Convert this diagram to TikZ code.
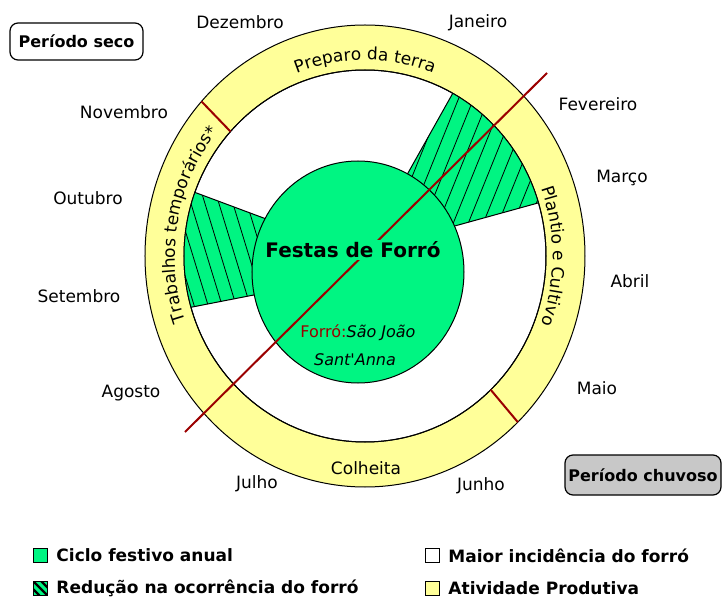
\documentclass[tikz,border=0pt]{standalone}
\usepackage{fontspec}
\setmainfont{DejaVu Sans}
\usetikzlibrary{positioning,decorations.text}
\definecolor{festgreen}{RGB}{0,245,130}
\definecolor{prodyellow}{RGB}{255,255,153}
\definecolor{forrored}{RGB}{155,0,0}
\definecolor{rainygray}{RGB}{200,200,200}
\newcommand{\ringfont}{\fontsize{17}{20}\selectfont}
\tikzset{
	month/.style={font=\fontsize{17}{20}\selectfont, inner sep=1pt},
	periodbox/.style={draw, rounded corners=8pt, line width=1.2pt, minimum width=133pt, minimum height=37pt, font=\bfseries\fontsize{16}{19}\selectfont},
	legbox/.style={draw, line width=1.6pt, minimum size=14pt, inner sep=0pt},
	legtext/.style={font=\bfseries\fontsize{17}{20}\selectfont, inner sep=1pt},
	hatchline/.style={line width=0.8pt},
	ringline/.style={line width=1pt},
	redline/.style={forrored, line width=2pt},
}
\begin{document}
\begin{tikzpicture}[x=1pt, y=1pt]
		\useasboundingbox (-365,-346) rectangle (358,256);
		% anel das atividades
		\draw[ringline, fill=prodyellow] (0,0) ellipse [x radius=220, y radius=231];
		\draw[ringline, fill=white] (0,0) ellipse [x radius=181, y radius=186];
		\coordinate (gc) at (-7,-16);
		\coordinate (wa) at (61:181 and 186);
		\coordinate (wb) at (16.6:181 and 186);
		\coordinate (wai) at (34,67);
		\coordinate (wbi) at (68,24);
		\coordinate (wc) at (160:181 and 186);
		\coordinate (wd) at (196:181 and 186);
		\coordinate (wci) at (-88,33);
		\coordinate (wdi) at (-101,-37);
		% reducao (fevereiro - marco)
		\fill[festgreen] (wai) -- (wa) arc[start angle=61, end angle=16.6, x radius=181, y radius=186] -- (wbi) -- (gc) -- cycle;
		\begin{scope}
			\clip (wai) -- (wa) arc[start angle=61, end angle=16.6, x radius=181, y radius=186] -- (wbi) -- (gc) -- cycle;
			\foreach \k in {0,...,15} \draw[hatchline] (\k*15-45,0) ++(68:-120) -- ++(68:320);
		\end{scope}
		\draw[ringline] (wai) -- (wa) (wb) -- (wbi);
		% reducao (setembro - outubro)
		\fill[festgreen] (wci) -- (wc) arc[start angle=160, end angle=196, x radius=181, y radius=186] -- (wdi) -- (gc) -- cycle;
		\begin{scope}
			\clip (wci) -- (wc) arc[start angle=160, end angle=196, x radius=181, y radius=186] -- (wdi) -- (gc) -- cycle;
			\foreach \k in {0,...,10} \draw[hatchline] (\k*14-200,0) ++(-73:-120) -- ++(-73:240);
		\end{scope}
		\draw[ringline] (wci) -- (wc) (wd) -- (wdi);
		\draw[ringline] (0,0) ellipse [x radius=181, y radius=186];
		% festas
		\draw[ringline, fill=festgreen] (gc) ellipse [x radius=106, y radius=111];
		\draw[redline] (138:181 and 186) -- (138:220 and 231);
		\draw[redline] (-46:181 and 186) -- (-46:220 and 231);
		\coordinate (ra) at (-180,-176);
		\coordinate (rb) at (182,183);
		\draw[redline] (ra) -- (rb);
		\node[fill=festgreen, inner sep=2pt, font=\bfseries\fontsize{20}{24}\selectfont] (festas) at (-12,6) {Festas de Forró};
		\node[font=\fontsize{16}{19}\selectfont] (saojoao) at (-7,-77) {\textcolor{forrored}{Forró:}\textit{São João}};
		\node[font=\fontsize{16}{19}\selectfont] (santanna) at (-10,-104) {\textit{Sant\textquotesingle Anna}};
		% textos do anel
		\path[decorate, decoration={text along path, text={|\ringfont|Preparo da terra}, text align=center}] (125:190 and 196) arc[start angle=125, end angle=55, x radius=190, y radius=196];
		\path[decorate, decoration={text along path, text={|\ringfont|Trabalhos temporários*}, text align=center}] (210:190 and 196) arc[start angle=210, end angle=130, x radius=190, y radius=196];
		\path[decorate, decoration={text along path, text={|\ringfont|Plantio e Cultivo}, text align=center}] (35:188 and 196) arc[start angle=35, end angle=-35, x radius=188, y radius=196];
		\node[month] (colheita) at (1,-212) {Colheita};
		% meses
		\node[month] (dez) at (-125,234) {Dezembro};
		\node[month] (jan) at (113,233) {Janeiro};
		\node[month] (fev) at (233,152) {Fevereiro};
		\node[month] (mar) at (257,78) {Março};
		\node[month] (abr) at (265,-25) {Abril};
		\node[month] (mai) at (232,-132) {Maio};
		\node[month] (jun) at (116,-230) {Junho};
		\node[month] (jul) at (-108,-228) {Julho};
		\node[month] (ago) at (-234,-137) {Agosto};
		\node[month] (set) at (-286,-40) {Setembro};
		\node[month] (out) at (-277,58) {Outubro};
		\node[month] (nov) at (-241,144) {Novembro};
		% periodos
		\node[periodbox, fill=white] (seco) at (-288.5,214.5) {Período seco};
		\node[periodbox, fill=rainygray, minimum width=156pt, minimum height=40pt] (chuvoso) at (278,-219) {Período chuvoso};
		% legenda
		\node[legbox, fill=festgreen] (lga) at (-324.5,-299.5) {};
		\node[legtext, right=7pt of lga] (lgat) {Ciclo festivo anual};
		\node[legbox, fill=festgreen, path picture={\foreach \s in {-8,0,8}{\draw[line width=2.2pt] ([xshift=\s pt]path picture bounding box.north west) -- ([xshift=\s pt]path picture bounding box.south east);}}] (lgb) at (-324.5,-332.5) {};
		\node[legtext, right=7pt of lgb] (lgbt) {Redução na ocorrência do forró};
		\node[legbox, fill=white] (lgc) at (67.5,-299.5) {};
		\node[legtext, right=7pt of lgc] (lgct) {Maior incidência do forró};
		\node[legbox, fill=prodyellow] (lgd) at (67.5,-332.5) {};
		\node[legtext, right=7pt of lgd] (lgdt) {Atividade Produtiva};
\end{tikzpicture}
\end{document}
